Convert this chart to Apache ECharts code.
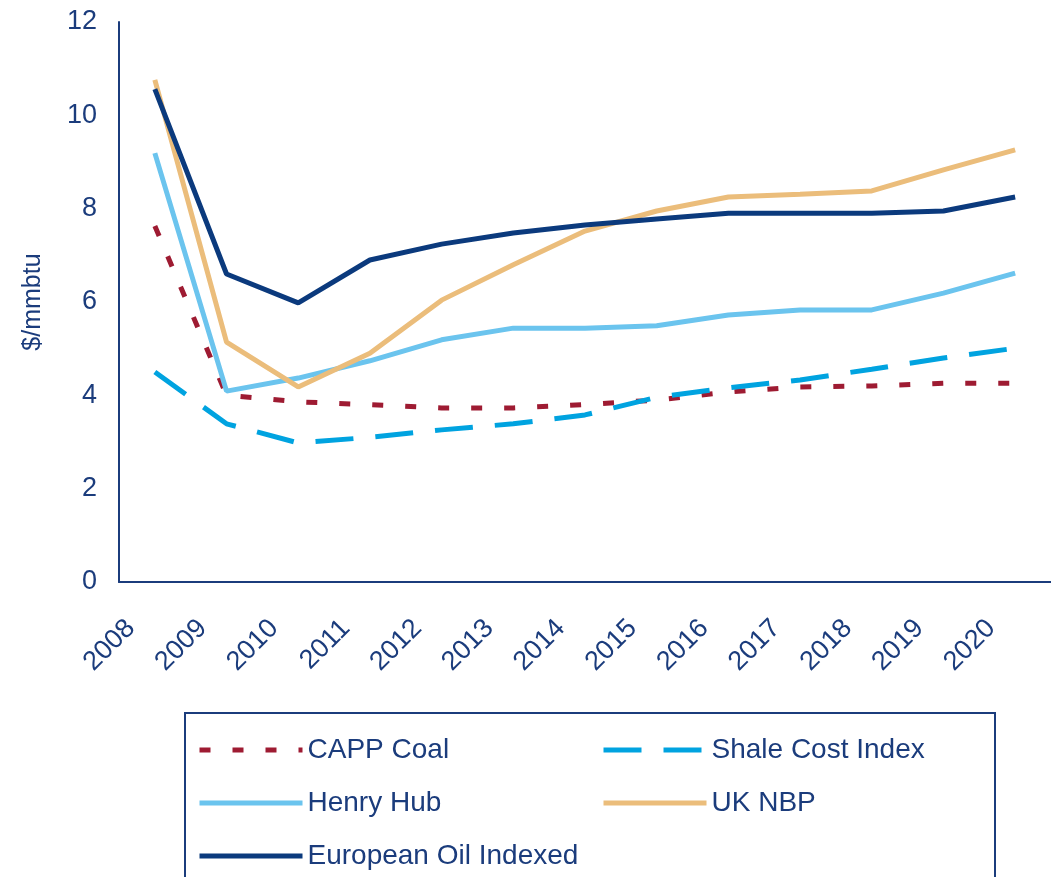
<!DOCTYPE html>
<html>
<head>
<meta charset="utf-8">
<script src="https://cdn.jsdelivr.net/npm/echarts@6/dist/echarts.min.js"></script>
<style>
  html, body { margin: 0; padding: 0; background: #fff; }
  #myCharts { width: 1051px; height: 877px; }
</style>
</head>
<body>
<div id="myCharts"></div>
<script>
let years = ["2008", "2009", "2010", "2011", "2012", "2013", "2014", "2015", "2016", "2017", "2018", "2019", "2020"];
let cappCoal = [7.63, 4.0, 3.86, 3.8, 3.73, 3.73, 3.8, 3.9, 4.07, 4.18, 4.2, 4.26, 4.26];
let shaleCost = [4.5, 3.39, 2.98, 3.1, 3.26, 3.39, 3.58, 3.96, 4.16, 4.33, 4.56, 4.8, 5.01];
let henryHub = [9.19, 4.09, 4.37, 4.74, 5.19, 5.44, 5.44, 5.49, 5.72, 5.83, 5.83, 6.19, 6.62];
let ukNbp = [10.76, 5.14, 4.18, 4.9, 6.04, 6.8, 7.52, 7.95, 8.25, 8.31, 8.38, 8.83, 9.26];
let euroOil = [10.56, 6.6, 5.98, 6.9, 7.24, 7.48, 7.65, 7.78, 7.9, 7.9, 7.9, 7.95, 8.25];
let yTicks = [0, 2, 4, 6, 8, 10, 12];

const navy = "#1b3c7c";
const font = "Liberation Sans, Arial, sans-serif";

const legendBase = {
  orient: "vertical",
  top: 731,
  height: 220,
  itemWidth: 103,
  itemHeight: 30,
  itemGap: 25,
  itemStyle: { opacity: 0 },
  lineStyle: { width: 5 },
  textStyle: { color: navy, fontSize: 28, fontFamily: font },
};

let myChart = echarts.init(document.getElementById("myCharts"));
myChart.setOption({
  animation: false,
  textStyle: { fontFamily: font },
  grid: { left: 119, right: -17, top: 22, bottom: 295 },
  xAxis: {
    type: "category",
    data: years,
    boundaryGap: true,
    axisLine: { lineStyle: { color: navy, width: 2 } },
    axisTick: { show: false },
    axisLabel: {
      rotate: 45,
      margin: 18,
      padding: [0, 34, 0, 0],
      color: navy,
      fontSize: 27,
      fontFamily: font,
    },
  },
  yAxis: {
    type: "value",
    min: yTicks[0],
    max: yTicks[yTicks.length - 1],
    interval: 2,
    name: "$/mmbtu",
    nameLocation: "middle",
    nameGap: 73,
    nameTextStyle: { color: navy, fontSize: 25, fontFamily: font },
    axisLine: { show: true, lineStyle: { color: navy, width: 2 } },
    axisTick: { show: false },
    splitLine: { show: false },
    axisLabel: { margin: 22, color: navy, fontSize: 27, fontFamily: font },
  },
  legend: [
    Object.assign({}, legendBase, {
      left: 192,
      data: ["CAPP Coal", "Henry Hub", "European Oil Indexed"],
    }),
    Object.assign({}, legendBase, {
      left: 596,
      data: ["Shale Cost Index", "UK NBP"],
    }),
  ],
  graphic: [
    {
      type: "rect",
      shape: { x: 185, y: 713, width: 810, height: 200 },
      style: { fill: "none", stroke: navy, lineWidth: 2 },
      silent: true,
    },
  ],
  series: [
    {
      name: "CAPP Coal",
      type: "line",
      symbol: "none",
      data: cappCoal,
      lineStyle: { color: "#9e1b32", width: 5, type: [11, 22] },
      itemStyle: { color: "#9e1b32" },
      z: 3,
    },
    {
      name: "Shale Cost Index",
      type: "line",
      symbol: "none",
      data: shaleCost,
      lineStyle: { color: "#00a3e0", width: 5, type: [38, 22] },
      itemStyle: { color: "#00a3e0" },
      z: 4,
    },
    {
      name: "Henry Hub",
      type: "line",
      symbol: "none",
      data: henryHub,
      lineStyle: { color: "#6bc4ee", width: 5 },
      itemStyle: { color: "#6bc4ee" },
      z: 5,
    },
    {
      name: "UK NBP",
      type: "line",
      symbol: "none",
      data: ukNbp,
      lineStyle: { color: "#ebbd7b", width: 5 },
      itemStyle: { color: "#ebbd7b" },
      z: 6,
    },
    {
      name: "European Oil Indexed",
      type: "line",
      symbol: "none",
      data: euroOil,
      lineStyle: { color: "#0b3a7d", width: 5 },
      itemStyle: { color: "#0b3a7d" },
      z: 7,
    },
  ],
});
</script>
</body>
</html>
